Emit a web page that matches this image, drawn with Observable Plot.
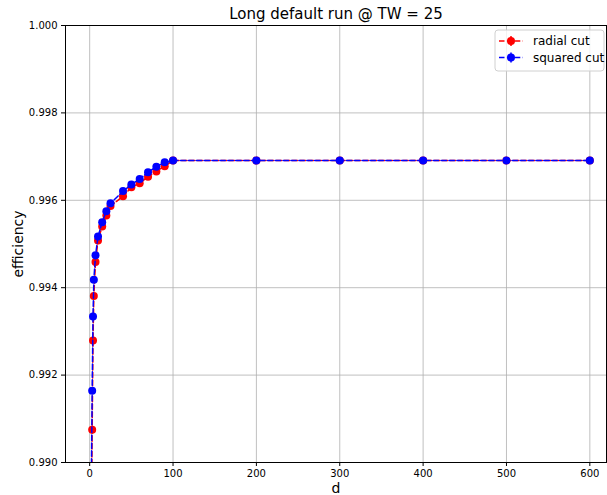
<!DOCTYPE html>
<html>
<head>
<meta charset="utf-8">
<script src="https://cdn.jsdelivr.net/npm/d3@7"></script>
<script src="https://cdn.jsdelivr.net/npm/@observablehq/plot@0.6"></script>
<style>
  html, body { margin: 0; padding: 0; background: #fff; }
  #chart { position: relative; width: 607px; height: 495px; }
</style>
</head>
<body>
<div id="chart"></div>
<script>
// ---- data ----
const titleText = "Long default run @ TW = 25";
const xLabel = "d";
const yLabel = "efficiency";
const dValues = [2, 3, 4, 5, 7, 10, 15, 20, 25, 40, 50, 60, 70, 80, 90, 100, 200, 300, 400, 500, 600];
const radialCut = [0.9885, 0.99075, 0.99279, 0.99381, 0.99459, 0.99508, 0.99540, 0.99565, 0.99587, 0.99609,
  0.99630, 0.99639, 0.99654, 0.99666, 0.99678, 0.99691, 0.99691, 0.99691, 0.99691, 0.99691, 0.99691];
const squaredCut = [0.9896, 0.99164, 0.99334, 0.99418, 0.99474, 0.99517, 0.99550, 0.99575, 0.99593, 0.99621,
  0.99636, 0.99649, 0.99664, 0.99677, 0.99687, 0.99691, 0.99691, 0.99691, 0.99691, 0.99691, 0.99691];
const seriesNames = ["radial cut", "squared cut"];
const seriesColors = ["#ff0000", "#0000ff"];
const xTicks = [0, 100, 200, 300, 400, 500, 600];
const yTicks = [0.990, 0.992, 0.994, 0.996, 0.998, 1.000];

const radialData = dValues.map((d, i) => ({d, v: radialCut[i]}));
const squaredData = dValues.map((d, i) => ({d, v: squaredCut[i]}));

const dash = "5.5,2.4";
const plot = Plot.plot({
  width: 607,
  height: 495,
  marginLeft: 65,
  marginRight: 1,
  marginTop: 25,
  marginBottom: 33,
  style: {fontFamily: "DejaVu Sans", fontSize: "10px", color: "#000", background: "#fff"},
  x: {domain: [-29, 620]},
  y: {domain: [0.990, 1.000]},
  marks: [
    Plot.gridX(xTicks, {stroke: "#b0b0b0", strokeOpacity: 1, strokeWidth: 0.8}),
    Plot.gridY(yTicks, {stroke: "#b0b0b0", strokeOpacity: 1, strokeWidth: 0.8}),
    Plot.axisX(xTicks, {tickSize: 4, tickPadding: 3, label: null, fontSize: 10, tickFormat: d3.format("d")}),
    Plot.axisY(yTicks, {tickSize: 4, tickPadding: 4, label: null, fontSize: 10, tickFormat: d3.format(".3f")}),
    Plot.line(radialData, {x: "d", y: "v", stroke: seriesColors[0], strokeWidth: 1.5, strokeDasharray: dash, clip: true}),
    Plot.dot(radialData, {x: "d", y: "v", r: 4, fill: seriesColors[0], stroke: "none", clip: true}),
    Plot.line(squaredData, {x: "d", y: "v", stroke: seriesColors[1], strokeWidth: 1.5, strokeDasharray: dash, clip: true}),
    Plot.dot(squaredData, {x: "d", y: "v", r: 4, fill: seriesColors[1], stroke: "none", clip: true}),
    Plot.frame({stroke: "#000", strokeWidth: 1}),
    Plot.text([titleText], {frameAnchor: "top", lineAnchor: "middle", dy: -11, fontSize: 15, fill: "#000"}),
    Plot.text([xLabel], {frameAnchor: "bottom", lineAnchor: "middle", dy: 26, fontSize: 14, fill: "#000"}),
    Plot.text([yLabel], {frameAnchor: "left", textAnchor: "middle", lineAnchor: "middle", dx: -47, rotate: -90, fontSize: 14, fill: "#000"})
  ]
});
document.getElementById("chart").appendChild(plot);

// legend (upper right, inside the axes)
const svg = d3.select(plot);
const lg = svg.append("g").attr("font-family", "DejaVu Sans").attr("font-size", 12).attr("text-anchor", "start");
lg.append("rect").attr("x", 495).attr("y", 30).attr("width", 109).attr("height", 41)
  .attr("rx", 3).attr("fill", "#fff").attr("fill-opacity", 0.8).attr("stroke", "#d0d0d0");
seriesNames.forEach((name, i) => {
  const y = 41 + i * 16.5;
  lg.append("line").attr("x1", 499).attr("x2", 523).attr("y1", y).attr("y2", y)
    .attr("stroke", seriesColors[i]).attr("stroke-width", 1.5).attr("stroke-dasharray", dash);
  lg.append("line").attr("x1", 511).attr("x2", 511).attr("y1", y - 5).attr("y2", y + 5)
    .attr("stroke", seriesColors[i]).attr("stroke-width", 1.5);
  lg.append("circle").attr("cx", 511).attr("cy", y).attr("r", 4).attr("fill", seriesColors[i]);
  lg.append("text").attr("x", 533).attr("y", y).attr("dy", "0.35em").attr("fill", "#000").text(name);
});
</script>
</body>
</html>
